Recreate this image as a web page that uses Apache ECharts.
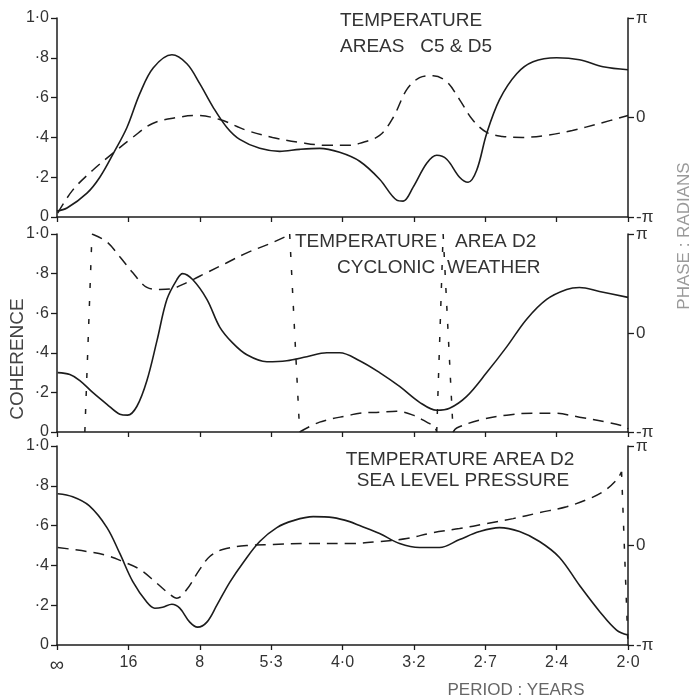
<!DOCTYPE html>
<html>
<head>
<meta charset="utf-8">
<script src="https://cdn.jsdelivr.net/npm/echarts@6/dist/echarts.min.js"></script>
<style>
  html, body { margin: 0; padding: 0; background: #fff; }
  #chart { width: 696px; height: 698px; }
</style>
</head>
<body>
<div id="chart"></div>
<script>
  // x is frequency in cycles per 16 years (0..8), labelled by period
  const periodLabels = ['∞', '16', '8', '5·3', '4·0', '3·2', '2·7', '2·4', '2·0'];

  // panel 1: temperature areas C5 & D5
  const coh1 = [[0,0.03],[0.14,0.045],[0.42,0.12],[0.6,0.2],[0.79,0.32],[0.98,0.45],[1.16,0.62],[1.35,0.75],
    [1.61,0.815],[1.82,0.77],[2.0,0.67],[2.19,0.55],[2.38,0.45],[2.56,0.39],[2.84,0.345],[3.12,0.33],[3.4,0.34],
    [3.68,0.345],[3.96,0.325],[4.24,0.28],[4.52,0.19],[4.76,0.085],[4.85,0.08],[4.99,0.15],[5.18,0.27],[5.32,0.31],
    [5.46,0.29],[5.64,0.2],[5.76,0.175],[5.88,0.235],[6.02,0.42],[6.2,0.59],[6.44,0.72],[6.67,0.78],[7.0,0.8],
    [7.32,0.79],[7.65,0.755],[8.0,0.74]];
  // phase in multiples of pi
  const phase1 = [[0.01,-0.96],[0.22,-0.73],[0.5,-0.53],[0.78,-0.36],[1.06,-0.2],[1.34,-0.06],[1.68,0.0],[1.96,0.02],
    [2.28,-0.02],[2.66,-0.13],[3.02,-0.2],[3.4,-0.25],[3.78,-0.28],[4.1,-0.28],[4.24,-0.26],[4.52,-0.18],[4.71,0.0],
    [4.9,0.28],[5.08,0.4],[5.27,0.42],[5.46,0.36],[5.64,0.18],[5.82,-0.02],[6.02,-0.15],[6.24,-0.19],[6.52,-0.2],
    [6.86,-0.18],[7.22,-0.13],[7.6,-0.06],[8.0,0.02]];

  // panel 2: temperature area D2 / cyclonic weather
  const coh2 = [[0.01,0.3],[0.18,0.29],[0.32,0.26],[0.5,0.2],[0.7,0.14],[0.88,0.09],[0.99,0.085],[1.12,0.13],
    [1.26,0.26],[1.4,0.46],[1.54,0.67],[1.68,0.77],[1.76,0.8],[1.9,0.77],[2.1,0.67],[2.28,0.53],[2.46,0.45],
    [2.66,0.39],[2.94,0.355],[3.22,0.36],[3.5,0.38],[3.78,0.4],[3.96,0.4],[4.24,0.36],[4.52,0.3],[4.8,0.23],
    [5.08,0.15],[5.32,0.11],[5.5,0.12],[5.74,0.18],[6.02,0.3],[6.3,0.43],[6.58,0.57],[6.86,0.67],[7.14,0.72],
    [7.32,0.73],[7.6,0.71],[8.0,0.68]];
  const phase2 = [[0.39,-1.0],[0.49,1.0],[0.7,0.92],[0.88,0.77],[1.06,0.61],[1.26,0.46],[1.44,0.44],[1.62,0.45],
    [1.82,0.51],[2.1,0.61],[2.38,0.71],[2.66,0.81],[2.94,0.89],[3.22,0.98],[3.26,1.0],[3.4,-1.0],[3.68,-0.9],
    [4.1,-0.83],[4.24,-0.81],[4.52,-0.8],[4.76,-0.79],[4.99,-0.83],[5.18,-0.9],[5.29,-0.95],[5.32,-1.0],
    [5.41,1.0],[5.55,-1.0],[5.6,-0.96],[5.92,-0.88],[6.3,-0.83],[6.67,-0.81],[6.95,-0.81],[7.32,-0.85],
    [7.7,-0.9],[7.98,-0.95],[8.0,-0.97]];

  // panel 3: temperature area D2 / sea level pressure
  const coh3 = [[0.01,0.76],[0.22,0.745],[0.45,0.7],[0.7,0.59],[0.88,0.46],[1.06,0.32],[1.26,0.215],
    [1.37,0.185],[1.48,0.19],[1.61,0.205],[1.72,0.185],[1.86,0.115],[1.97,0.09],[2.1,0.115],[2.24,0.2],
    [2.42,0.315],[2.61,0.415],[2.84,0.52],[3.08,0.59],[3.31,0.625],[3.59,0.645],[3.87,0.64],[4.1,0.62],
    [4.24,0.6],[4.52,0.56],[4.8,0.51],[5.08,0.49],[5.36,0.49],[5.64,0.53],[5.92,0.57],[6.2,0.59],[6.48,0.57],
    [6.76,0.52],[7.04,0.44],[7.32,0.3],[7.61,0.165],[7.84,0.075],[8.0,0.05]];
  const phase3 = [[0.01,-0.02],[0.42,-0.06],[0.7,-0.1],[0.92,-0.16],[1.16,-0.24],[1.4,-0.38],[1.58,-0.49],
    [1.68,-0.53],[1.82,-0.44],[2.0,-0.24],[2.14,-0.11],[2.32,-0.04],[2.66,0.0],[3.03,0.01],[3.5,0.02],[4.1,0.02],
    [4.52,0.04],[4.9,0.07],[5.27,0.13],[5.64,0.17],[6.02,0.22],[6.39,0.27],[6.76,0.33],[7.14,0.39],[7.42,0.46],
    [7.65,0.54],[7.84,0.66],[7.91,0.74],[8.0,-1.0]];

  const panelTitles = [
    [['TEMPERATURE', 340, 21], ['AREAS   C5 & D5', 340, 47]],
    [['TEMPERATURE', 295, 242], ['AREA D2', 455, 242], ['CYCLONIC', 337, 268], ['WEATHER', 447, 268]],
    [['TEMPERATURE AREA D2', 460, 460, 'center'], ['SEA LEVEL PRESSURE', 463, 481, 'center']]
  ];

  const FONT = '"Liberation Sans", Arial, sans-serif';
  const INK = '#1c1c1c';
  const grids = [{ top: 18, height: 199 }, { top: 234, height: 198 }, { top: 446, height: 199 }];

  // split a phase curve where it wraps round from -pi to pi
  function splitPhase(pts) {
    const runs = [], jumps = [];
    let cur = [pts[0]];
    for (let i = 1; i < pts.length; i++) {
      if (Math.abs(pts[i][1] - pts[i - 1][1]) > 1) {
        runs.push(cur);
        jumps.push([pts[i - 1], pts[i]]);
        cur = [pts[i]];
      } else {
        cur.push(pts[i]);
      }
    }
    runs.push(cur);
    return { runs: runs.filter(r => r.length > 1), jumps };
  }

  let chart = echarts.init(document.getElementById('chart'));
  let xAxis = [], yAxis = [], series = [], graphic = [];

  grids.forEach((g, i) => {
    xAxis.push({
      type: 'value', gridIndex: i, min: 0, max: 8, interval: 1,
      axisLine: { lineStyle: { color: INK, width: 1.5 } },
      axisTick: { show: true, length: 5, lineStyle: { color: INK, width: 1.3 } },
      axisLabel: {
        show: i === 2, margin: 10, color: '#333', fontSize: 16, fontFamily: FONT,
        formatter: v => v === 0 ? '{inf|∞}' : periodLabels[Math.round(v)],
        rich: { inf: { fontSize: 20, fontFamily: FONT, color: '#333' } }
      },
      splitLine: { show: false }
    });
    yAxis.push({
      type: 'value', gridIndex: i, min: 0, max: 1, interval: 0.2, position: 'left',
      axisLine: { show: true, lineStyle: { color: INK, width: 1.5 } },
      axisTick: { show: true, length: 6, lineStyle: { color: INK, width: 1.3 } },
      axisLabel: {
        margin: 8, color: '#333', fontSize: 16, fontFamily: FONT,
        formatter: v => v === 0 ? '0' : (v === 1 ? '1·0' : '·' + Math.round(v * 10))
      },
      splitLine: { show: false }
    });
    yAxis.push({
      type: 'value', gridIndex: i, min: -1, max: 1, interval: 1, position: 'right',
      axisLine: { show: true, lineStyle: { color: INK, width: 1.5 } },
      axisTick: { show: true, length: 6, lineStyle: { color: INK, width: 1.3 } },
      axisLabel: {
        margin: 8, color: '#333', fontSize: 17, fontFamily: FONT,
        formatter: v => v === 1 ? 'π' : (v === 0 ? '0' : '-π')
      },
      splitLine: { show: false }
    });
  });

  [[coh1, phase1], [coh2, phase2], [coh3, phase3]].forEach(([coh, ph], i) => {
    series.push({
      type: 'line', xAxisIndex: i, yAxisIndex: 2 * i, data: coh, smooth: 0.35,
      symbol: 'none', lineStyle: { color: INK, width: 1.6 }, z: 3
    });
    const parts = splitPhase(ph);
    parts.runs.forEach(r => series.push({
      type: 'line', xAxisIndex: i, yAxisIndex: 2 * i + 1, data: r, smooth: 0.35,
      symbol: 'none', lineStyle: { color: INK, width: 1.5, type: [11, 7] }
    }));
    parts.jumps.forEach(r => series.push({
      type: 'line', xAxisIndex: i, yAxisIndex: 2 * i + 1, data: r,
      symbol: 'none', lineStyle: { color: INK, width: 1.5, type: [5, 13] }
    }));
  });

  panelTitles.forEach(lines => lines.forEach(t => graphic.push({
    type: 'text', x: t[1], y: t[2], z: 10,
    style: { text: t[0], fill: '#333', font: '19px ' + FONT, align: t[3] || 'left', verticalAlign: 'middle' }
  })));

  graphic.push({
    type: 'text', x: 18, y: 359, rotation: Math.PI / 2,
    style: { text: 'COHERENCE', fill: '#444', font: '19px ' + FONT, align: 'center', verticalAlign: 'middle' }
  });
  graphic.push({
    type: 'text', x: 684, y: 236, rotation: Math.PI / 2,
    style: { text: 'PHASE : RADIANS', fill: '#9a9a9a', font: '17px ' + FONT, align: 'center', verticalAlign: 'middle' }
  });
  graphic.push({
    type: 'text', x: 516, y: 690,
    style: { text: 'PERIOD : YEARS', fill: '#666', font: '17px ' + FONT, align: 'center', verticalAlign: 'middle' }
  });

  let option = {
    animation: false,
    backgroundColor: '#fff',
    grid: grids.map(g => ({ left: 57, right: 68, top: g.top, height: g.height })),
    xAxis: xAxis,
    yAxis: yAxis,
    series: series,
    graphic: graphic
  };
  option && chart.setOption(option);
</script>
</body>
</html>
